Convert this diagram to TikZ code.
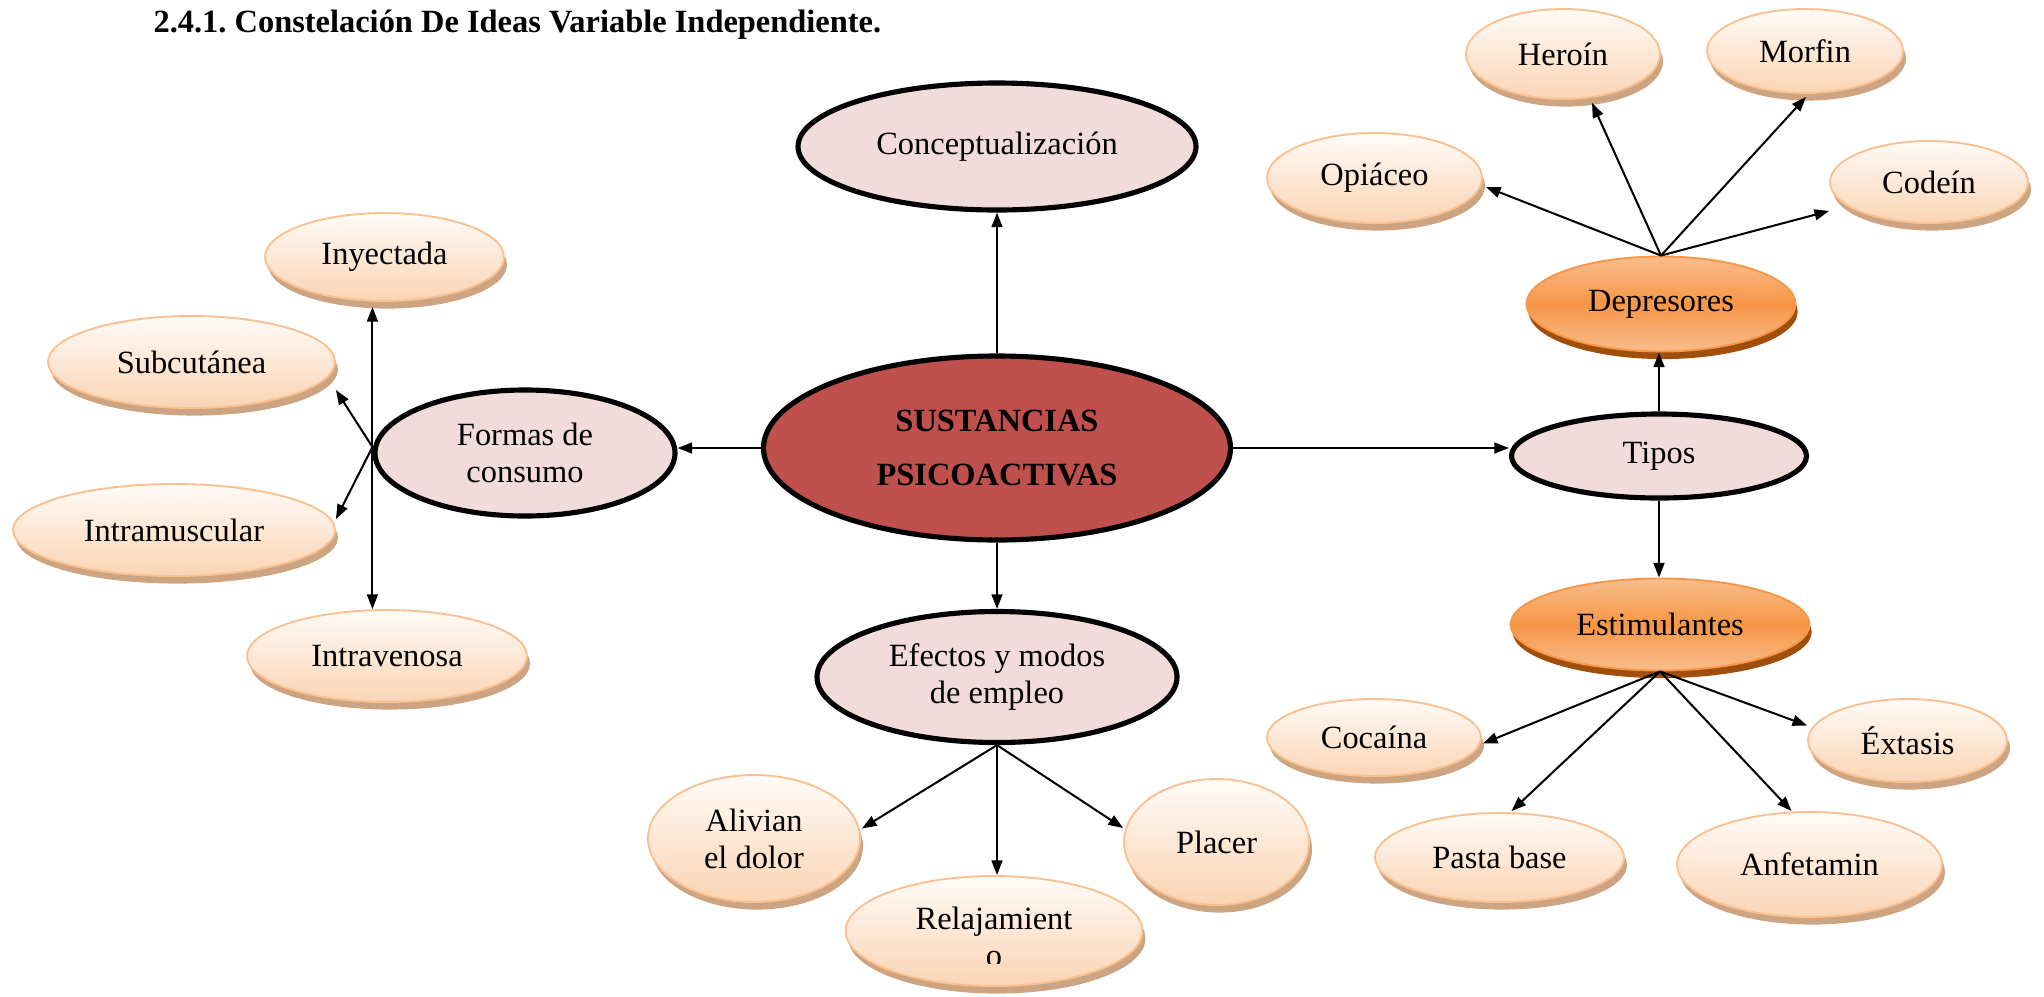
\documentclass[tikz,border=0pt]{standalone}
\usepackage{fontspec}
\setmainfont{Liberation Serif}
\frenchspacing
\usetikzlibrary{shapes.geometric,shadows,arrows.meta,calc}
\definecolor{pinkF}{HTML}{F2DCDB}
\definecolor{redF}{HTML}{C0504D}
\definecolor{peachB}{HTML}{FBD4B4}
\definecolor{peachT}{HTML}{FFFBF7}
\definecolor{peachL}{HTML}{FAC090}
\definecolor{peachS}{HTML}{CDA482}
\definecolor{orM}{HTML}{F79646}
\definecolor{orL}{HTML}{F9BD8C}
\definecolor{orS}{HTML}{A04E0C}
\tikzset{
 sz/.style 2 args={minimum width=#1*0.37pt, minimum height=#2*0.37pt},
 basen/.style={ellipse, inner sep=0pt, align=center, font=\fontsize{12}{13.7}\selectfont},
 pinkn/.style={basen, draw=black, line width=1.9pt, fill=pinkF},
 redn/.style={basen, draw=black, line width=1.9pt, fill=redF, font=\fontsize{12}{20.3}\selectfont\bfseries},
 peach/.style={basen, draw=peachL, line width=0.7pt, top color=peachT, bottom color=peachB,
   drop shadow={shadow xshift=1.1pt, shadow yshift=-2.8pt, fill=peachS, opacity=1}},
 orangen/.style={basen, draw=orM, line width=0.7pt, top color=orL, bottom color=orL, middle color=orM,
   drop shadow={shadow xshift=0.8pt, shadow yshift=-2.8pt, fill=orS, opacity=1}},
 arr/.style={draw=black, line width=0.75pt, -{Triangle[length=5.4pt,width=4pt]}},
 txt/.style={font=\fontsize{12}{13.7}\selectfont, inner sep=0pt},
}
\begin{document}
\begin{tikzpicture}[x=0.37pt, y=-0.37pt]
\useasboundingbox (0,0) rectangle (2044,996);

\node[anchor=base west, inner sep=0pt, font=\fontsize{12}{14}\selectfont\bfseries] (title) at (153,32) {2.4.1. Constelación De Ideas Variable Independiente.};

% central and second level
\node[redn, sz={467}{184}] (sus) at (997,448) {SUSTANCIAS\\PSICOACTIVAS};
\node[pinkn, sz={398}{127}] (con) at (997,146.5) {Conceptualización};
\node[pinkn, sz={300}{126}] (for) at (525,453) {Formas de\\consumo};
\node[pinkn, sz={295}{84}] (tip) at (1659,456) {Tipos};
\node[pinkn, sz={360}{131}] (efe) at (997,677) {Efectos y modos\\de empleo};

% types
\node[orangen, sz={269}{95}] (dep) at (1661,304) {Depresores};
\node[orangen, sz={299}{92}] (est) at (1660,624.5) {Estimulantes};

% forms
\node[peach, sz={239}{88}] (iny) at (384.5,257) {Inyectada};
\node[peach, sz={287}{92}] (sub) at (191.5,362) {Subcutánea};
\node[peach, sz={322}{92}] (imu) at (174,530) {Intramuscular};
\node[peach, sz={280}{92}] (ive) at (387,656) {Intravenosa};

% effects
\node[peach, sz={212}{127}] (ali) at (754,838.5) {Alivian\\el dolor};
\node[peach, sz={297}{110}] (rel) at (994,931) {};
\begin{scope}
\clip (840,860) rectangle (1150,963);
\node[txt, anchor=base] (rel1) at (994,929) {Relajamient};
\node[txt, anchor=base] (rel2) at (994,966) {o};
\end{scope}
\node[peach, sz={185}{126}] (pla) at (1216.5,842) {Placer};

% stimulants
\node[peach, sz={214}{77}] (coc) at (1374,737.5) {Cocaína};
\node[peach, sz={199}{83}] (ext) at (1907.5,740.5) {Éxtasis};
\node[peach, sz={249}{89}] (pas) at (1499.5,857.5) {Pasta base};
\node[peach, sz={265}{105}] (anf) at (1809.5,864.5) {Anfetamin};

% depressants
\node[peach, sz={215}{90}] (opi) at (1374.5,178) {Opiáceo};
\node[peach, sz={194}{90}] (her) at (1563,54) {Heroín};
\node[peach, sz={196}{84}] (mor) at (1805,51) {Morfin};
\node[peach, sz={198}{82}] (cod) at (1929,182) {Codeín};

% connectors
\draw[arr] (sus.north) -- (con.south);
\draw[arr] (sus.west) -- (sus.west -| for.east);
\draw[arr] (sus.east) -- (sus.east -| tip.west);
\draw[arr] (sus.south) -- (efe.north);
\draw[arr] (tip.north) -- (tip.north |- dep.south);
\draw[arr] (tip.south) -- (tip.south |- est.north);

\draw[arr] (dep.north) -- ($(opi.east)+(3,9)$);
\draw[arr] (dep.north) -- ($(her.south)+(29,3)$);
\draw[arr] (dep.north) -- ($(mor.south)+(1,3)$);
\draw[arr] (dep.north) -- ($(cod.west)+(0,29)$);

\draw[arr] (est.south) -- ($(coc.east)+(1,6)$);
\draw[arr] (est.south) -- ($(pas.north)+(12,-1)$);
\draw[arr] (est.south) -- ($(anf.north)+(-18,0)$);
\draw[arr] (est.south) -- ($(ext.west)+(0,-15)$);

\draw[arr] (efe.south) -- ($(ali.east)+(1,-10)$);
\draw[arr] (efe.south) -- (efe.south |- rel.north);
\draw[arr] (efe.south) -- ($(pla.west)+(0,-14)$);

\coordinate (fo) at ($(for.west)+(0,-6)$);
\draw[arr] (fo) -- ($(fo |- iny.south)+(0,5)$);
\draw[arr] (fo) -- (fo |- ive.north);
\draw[arr] (fo) -- ($(sub.east)+(0,28)$);
\draw[arr] (fo) -- ($(imu.east)+(0,-11)$);
\end{tikzpicture}
\end{document}
